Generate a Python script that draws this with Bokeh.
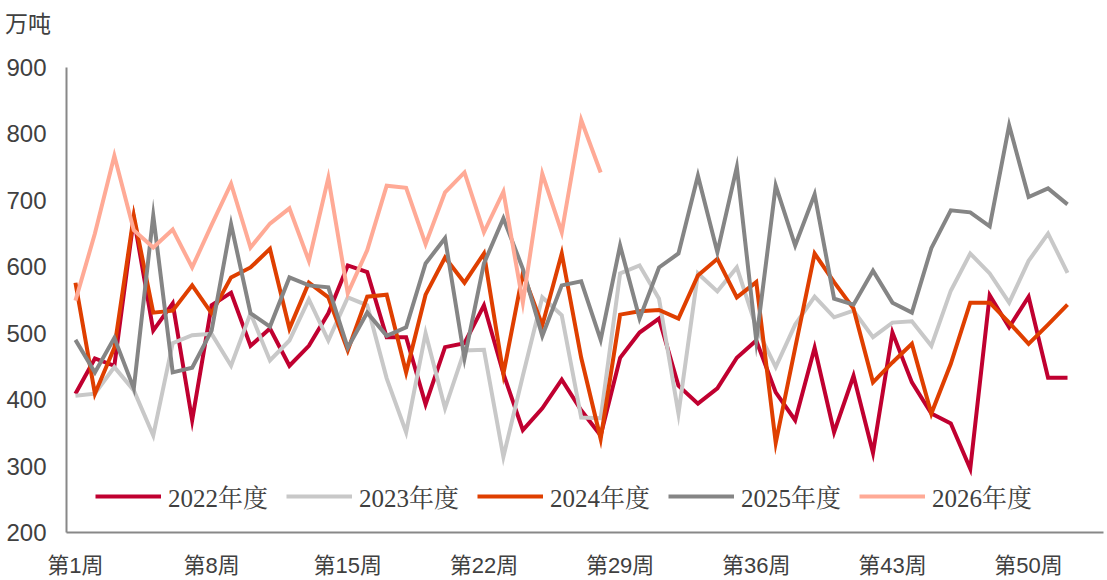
from bokeh.plotting import figure
from bokeh.models import FixedTicker, Legend, LegendItem, Div
from bokeh.layouts import column
from bokeh.embed import file_html
from bokeh.resources import INLINE

weeks = list(range(1, 53))

y2022 = [409, 462, 451, 673, 504, 545, 369, 542, 561, 481, 507, 451, 481, 530, 602, 592, 494, 494,
         393, 479, 485, 542, 439, 354, 387, 430, 384, 346, 463, 501, 522, 421, 394, 417, 463, 489,
         411, 369, 478, 351, 436, 320, 501, 426, 379, 364, 296, 557, 509, 555, 433, 433]
y2023 = [406, 409, 449, 414, 346, 485, 497, 499, 451, 530, 459, 489, 551, 489, 554, 542, 432, 351,
         500, 387, 474, 475, 314, 436, 554, 527, 373, 372, 590, 602, 552, 379, 590, 563, 599, 509,
         449, 513, 555, 524, 534, 494, 516, 518, 481, 564, 620, 590, 546, 609, 650, 591]
y2024 = [576, 409, 478, 677, 531, 534, 572, 530, 584, 599, 627, 507, 576, 554, 474, 555, 558, 441,
         558, 614, 576, 620, 439, 590, 512, 620, 463, 341, 528, 533, 535, 522, 587, 612, 554, 577,
         335, 478, 620, 577, 537, 426, 456, 484, 379, 454, 546, 546, 516, 484, 513, 543]
y2025 = [490, 441, 493, 417, 677, 441, 448, 504, 664, 530, 510, 584, 572, 569, 478, 531, 496, 509,
         605, 643, 462, 605, 673, 597, 496, 572, 578, 490, 632, 522, 599, 620, 737, 622, 750, 489,
         722, 632, 709, 552, 543, 594, 546, 531, 628, 685, 682, 661, 813, 705, 718, 694]
y2026 = [549, 650, 767, 655, 629, 656, 599, 663, 725, 629, 665, 688, 609, 734, 560, 625, 722, 719,
         634, 712, 742, 652, 713, 546, 740, 652, 821, 742]

series_names = ["2022年度", "2023年度", "2024年度", "2025年度", "2026年度"]
series_values = [y2022, y2023, y2024, y2025, y2026]
series_colors = ["#C00030", "#C8C8C8", "#DF3F00", "#858585", "#FFAA96"]

tick_weeks = [1, 8, 15, 22, 29, 36, 43, 50]
tick_labels = ["第1周", "第8周", "第15周", "第22周", "第29周", "第36周", "第43周", "第50周"]
y_ticks = [200, 300, 400, 500, 600, 700, 800, 900]
unit_label = "万吨"

header = Div(text=unit_label, width=1107, height=40, margin=(0, 0, 0, 0),
             styles={"font-family": "'Noto Sans CJK SC', sans-serif", "font-size": "23px",
                     "line-height": "24px", "color": "#404040", "padding-top": "10px",
                     "padding-left": "5px", "box-sizing": "border-box",
                     "background-color": "white"})

p = figure(width=1107, height=540, output_backend="svg", toolbar_location=None,
           x_range=(0.54, 53.85), y_range=(200, 900),
           min_border_left=66, min_border_right=4, min_border_top=27, min_border_bottom=48)
p.outline_line_color = None
p.grid.visible = False
p.background_fill_color = "white"
p.border_fill_color = "white"

items = []
for name, vals, col in zip(series_names, series_values, series_colors):
    r = p.line(weeks[:len(vals)], vals, line_color=col, line_width=4, line_join="miter")
    items.append(LegendItem(label=name, renderers=[r]))

legend = Legend(items=items, orientation="horizontal", location=(29, 18),
                label_text_font="Liberation Serif, Noto Serif CJK SC, Noto Sans CJK SC",
                label_text_font_size="25px",
                label_text_color="#404040", glyph_width=66, glyph_height=24, label_standoff=7,
                spacing=18, padding=0, margin=0, border_line_color=None,
                background_fill_alpha=0)
p.add_layout(legend, "center")

for ax in (p.xaxis[0], p.yaxis[0]):
    ax.axis_line_color = "#888888"
    ax.axis_line_width = 2
    ax.major_tick_line_color = None
    ax.minor_tick_line_color = None
    ax.major_label_text_color = "#404040"

p.xaxis.ticker = FixedTicker(ticks=tick_weeks)
p.xaxis.major_label_overrides = {w: t for w, t in zip(tick_weeks, tick_labels)}
p.xaxis.major_label_text_font = "Liberation Sans, Noto Sans CJK SC"
p.xaxis.major_label_text_font_size = "22px"
p.xaxis.major_label_standoff = 14

p.yaxis.ticker = FixedTicker(ticks=y_ticks)
p.yaxis.major_label_text_font = "Liberation Sans"
p.yaxis.major_label_text_font_size = "24px"
p.yaxis.major_label_standoff = 14

layout = column(header, p, spacing=0)
open("out.html", "w").write(file_html(layout, INLINE))
